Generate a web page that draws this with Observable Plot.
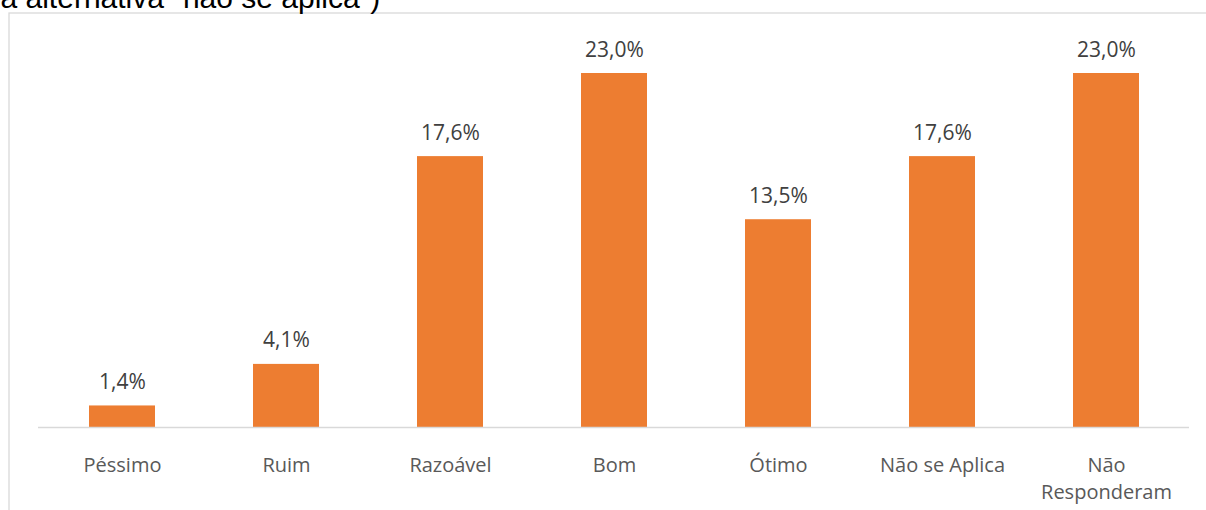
<!DOCTYPE html>
<html>
<head>
<meta charset="utf-8">
<script src="https://cdn.jsdelivr.net/npm/d3@7"></script>
<script src="https://cdn.jsdelivr.net/npm/@observablehq/plot@0.6"></script>
<style>
  html, body { margin: 0; padding: 0; background: #fff; overflow: hidden; }
  #chart svg { display: block; }
</style>
</head>
<body>
<div id="chart"></div>
<script>
const categories = ["Péssimo", "Ruim", "Razoável", "Bom", "Ótimo", "Não se Aplica", "Não Responderam"];
const values = [1.4, 4.1, 17.6, 23.0, 13.5, 17.6, 23.0];
const tickLabels = ["Péssimo", "Ruim", "Razoável", "Bom", "Ótimo", "Não se Aplica", "Não\nResponderam"];
const titleText = ["a alternativa \"não se aplica\")"];

const data = categories.map((c, i) => ({cat: c, value: values[i], label: tickLabels[i]}));
const fmt = v => v.toFixed(1).replace(".", ",") + "%";

const chart = Plot.plot({
  width: 1206,
  height: 510,
  marginLeft: 38,
  marginRight: 17,
  marginTop: 73,
  marginBottom: 83,
  style: {background: "#fff", overflow: "hidden"},
  x: {domain: categories, paddingInner: 0.6, paddingOuter: 0.3, axis: null},
  y: {domain: [0, 23], axis: null},
  marks: [
    Plot.frame({stroke: "#d9d9d9", strokeWidth: 1.3, insetLeft: -29.5, insetTop: -60.5, insetRight: -40, insetBottom: -120}),
    Plot.text(titleText, {frameAnchor: "top-left", dx: -38, dy: -65.5, lineAnchor: "bottom", textAnchor: "start",
      fontFamily: "Liberation Sans, Arial, sans-serif", fontSize: 30, fill: "#000"}),
    Plot.barY(data, {x: "cat", y: "value", fill: "#ed7d31"}),
    Plot.ruleY([0], {stroke: "#d9d9d9", strokeWidth: 1.3}),
    Plot.text(data, {x: "cat", y: "value", text: d => fmt(d.value), dy: -17, lineAnchor: "bottom",
      fontFamily: "Open Sans, sans-serif", fontSize: 21, fill: "#404040"}),
    Plot.text(data, {x: "cat", y: () => 0, text: "label", dy: 25, lineAnchor: "top", lineHeight: 1.35,
      fontFamily: "Open Sans, sans-serif", fontSize: 20, fill: "#595959"})
  ]
});
document.getElementById("chart").appendChild(chart);
</script>
</body>
</html>
